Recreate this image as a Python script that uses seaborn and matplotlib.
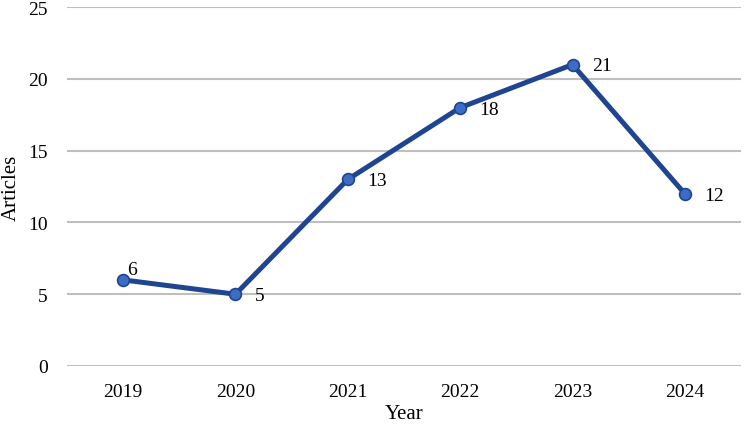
import matplotlib
matplotlib.use('Agg')
import matplotlib.pyplot as plt
import seaborn as sns
import pandas as pd

# values
years = ['2019', '2020', '2021', '2022', '2023', '2024']
articles = [6, 5, 13, 18, 21, 12]

df = pd.DataFrame({'Year': years, 'Articles': articles})

sns.set_theme(style='white')
plt.rcParams['font.family'] = ['Liberation Serif', 'DejaVu Serif']
plt.rcParams['text.color'] = 'black'
plt.rcParams['axes.labelcolor'] = 'black'

fig = plt.figure(figsize=(7.44, 4.31), dpi=100)
ax = fig.add_axes([0.090, 0.1485, 0.906, 0.8325])

sns.lineplot(data=df, x='Year', y='Articles', ax=ax, color='#1f4591', linewidth=3.6,
             marker='o', markersize=8.5, markerfacecolor='#3d6cc4',
             markeredgecolor='#1f4591', markeredgewidth=1.2, sort=False)

# data labels
for i, v in enumerate(articles):
    if i == 0:
        ax.annotate(str(v), (i, v), xytext=(3, 1), textcoords='offset points',
                    fontsize=14, ha='left', va='bottom')
    else:
        ax.annotate(str(v), (i, v), xytext=(14, -1), textcoords='offset points',
                    fontsize=14, ha='left', va='center')

ax.set_xlim(-0.5, len(years) - 0.5)
ax.set_ylim(0, 25)
ax.set_yticks(range(0, 26, 5))
ax.yaxis.grid(True, color='#bfbfbf', linewidth=1.5)
ax.set_axisbelow(True)
for s in ax.spines.values():
    s.set_visible(False)
ax.tick_params(axis='both', length=0, labelsize=14, colors='black')
ax.tick_params(axis='x', pad=12)
ax.tick_params(axis='y', pad=14)
ax.set_xlabel('Year', fontsize=15, labelpad=3)
ax.set_ylabel('Articles', fontsize=15)
ax.yaxis.set_label_coords(-0.069, 0.5)

fig.savefig('out.png', dpi=100)
